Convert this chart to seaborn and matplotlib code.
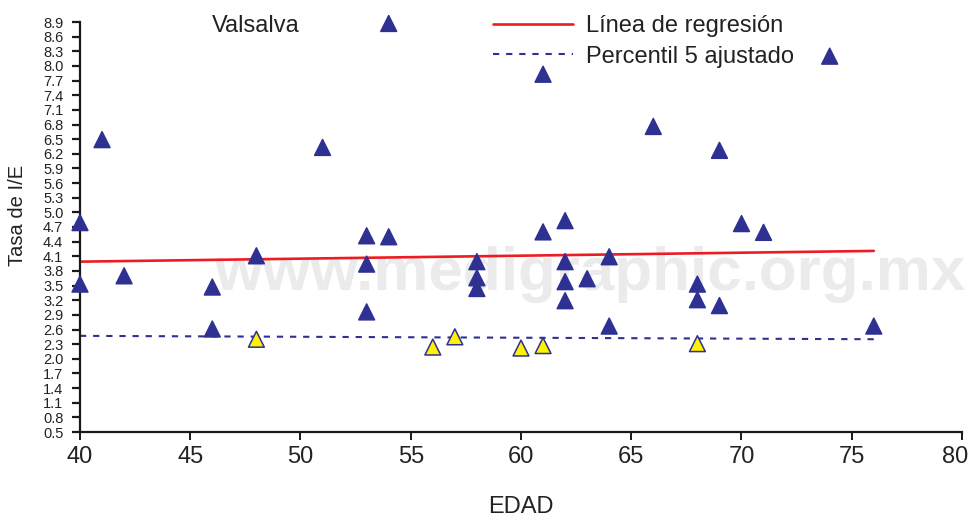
import matplotlib
matplotlib.use("Agg")
import matplotlib.pyplot as plt
import matplotlib.transforms as mtransforms
import seaborn as sns
import pandas as pd
from matplotlib.lines import Line2D

# ---------------- data ----------------
edad = [40, 40, 41, 42, 46, 46, 48, 48, 51, 53,
        53, 53, 54, 54, 56, 57, 58, 58, 58, 60,
        61, 61, 61, 62, 62, 62, 62, 63, 64, 64,
        66, 68, 68, 68, 69, 69, 70, 71, 74, 76]
tasa = [3.53, 4.79, 6.49, 3.70, 3.47, 2.61, 2.40, 4.11, 6.33, 4.52,
        3.94, 2.96, 4.50, 8.87, 2.24, 2.45, 3.99, 3.66, 3.44, 2.22,
        7.83, 4.60, 2.27, 4.83, 3.99, 3.58, 3.19, 3.64, 4.09, 2.67,
        6.76, 3.53, 3.21, 2.31, 6.27, 3.09, 4.77, 4.59, 8.20, 2.67]
grupo = ["normal", "normal", "normal", "normal", "normal", "normal", "bajo", "normal", "normal", "normal",
         "normal", "normal", "normal", "normal", "bajo", "bajo", "normal", "normal", "normal", "bajo",
         "normal", "normal", "bajo", "normal", "normal", "normal", "normal", "normal", "normal", "normal",
         "normal", "normal", "normal", "bajo", "normal", "normal", "normal", "normal", "normal", "normal"]

reg_x = [40, 76]
reg_y = [3.99, 4.21]
p5_x = [40, 76.3]
p5_y = [2.47, 2.40]

x_ticks = [40, 45, 50, 55, 60, 65, 70, 75, 80]
y_ticks = [0.5, 0.8, 1.1, 1.4, 1.7, 2.0, 2.3, 2.6, 2.9, 3.2, 3.5, 3.8, 4.1, 4.4, 4.7,
           5.0, 5.3, 5.6, 5.9, 6.2, 6.5, 6.8, 7.1, 7.4, 7.7, 8.0, 8.3, 8.6, 8.9]

NAVY = "#2E3192"
RED = "#ED1C24"
YELLOW = "#FFF200"

sns.set_theme(style="white")
plt.rcParams["font.family"] = ["Liberation Sans", "DejaVu Sans"]

fig = plt.figure(figsize=(9.7, 5.17), dpi=100)
W, H = 970, 517
ax = fig.add_axes([80 / W, 1 - 432 / H, 882 / W, 410 / H])

# watermark (behind the data)
ax.text(214 / W, 1 - 290 / H, "www.medigraphic.org.mx", transform=fig.transFigure,
        fontsize=44.6, fontweight="bold", color="#EBEBEB", ha="left", va="baseline",
        zorder=0.5, clip_on=False)

df = pd.DataFrame({"EDAD": edad, "Tasa": tasa, "grupo": grupo})
df_reg = pd.DataFrame({"x": reg_x, "y": reg_y})
df_p5 = pd.DataFrame({"x": p5_x, "y": p5_y})

sns.lineplot(data=df_reg, x="x", y="y", ax=ax, color=RED, linewidth=1.9, zorder=2)
sns.lineplot(data=df_p5, x="x", y="y", ax=ax, color=NAVY, linewidth=1.5,
             dashes=False, zorder=2)
ax.lines[-1].set_dashes((3.0, 3.3))

sns.scatterplot(data=df, x="EDAD", y="Tasa", hue="grupo", ax=ax,
                palette={"normal": NAVY, "bajo": YELLOW}, marker="^", s=130,
                edgecolor=NAVY, linewidth=1.1, legend=False, zorder=3, clip_on=False)

ax.set_xlim(40, 80)
ax.set_ylim(0.5, 8.9)
ax.set_xticks(x_ticks)
ax.set_xticklabels([str(v) for v in x_ticks])
ax.set_yticks(y_ticks)
ax.set_yticklabels([f"{v:.1f}" for v in y_ticks])

for s in ["top", "right"]:
    ax.spines[s].set_visible(False)
for s in ["left", "bottom"]:
    ax.spines[s].set_color("#1a1a1a")
    ax.spines[s].set_linewidth(1.6)

ax.tick_params(axis="x", direction="out", length=6, width=1.4, colors="#1a1a1a",
               labelsize=17, pad=4, bottom=True)
ax.tick_params(axis="y", direction="out", length=6, width=1.6, colors="#1a1a1a",
               labelsize=10.5, pad=6, left=True)
for lab in ax.get_xticklabels() + ax.get_yticklabels():
    lab.set_color("#222222")
# keep the last x label inside the figure, as in the reference
last = ax.get_xticklabels()[-1]
last.set_transform(last.get_transform() + mtransforms.ScaledTranslation(-0.07, 0, fig.dpi_scale_trans))

ax.set_xlabel("EDAD", fontsize=17, color="#222222", labelpad=20)
ax.set_ylabel("Tasa de I/E", fontsize=14.5, color="#222222", va="center")
ax.yaxis.set_label_coords(-0.0703, 0.527)

# legend-like texts
fig.text(212 / W, 1 - 26 / H, "Valsalva", fontsize=17, color="#222222", va="center", ha="left")
handles = [Line2D([0], [0], color=RED, linewidth=1.9),
           Line2D([0], [0], color=NAVY, linewidth=1.5, dashes=(3.0, 3.3))]
labels = ["Línea de regresión", "Percentil 5 ajustado"]
leg = ax.legend(handles, labels, loc="upper left", bbox_to_anchor=(493 / W, 1 - 15 / H),
                bbox_transform=fig.transFigure, frameon=False, fontsize=17,
                handlelength=3.4, handletextpad=0.55, labelspacing=0.36,
                borderpad=0, borderaxespad=0)
for t in leg.get_texts():
    t.set_color("#222222")

fig.savefig("out.png", dpi=100)
